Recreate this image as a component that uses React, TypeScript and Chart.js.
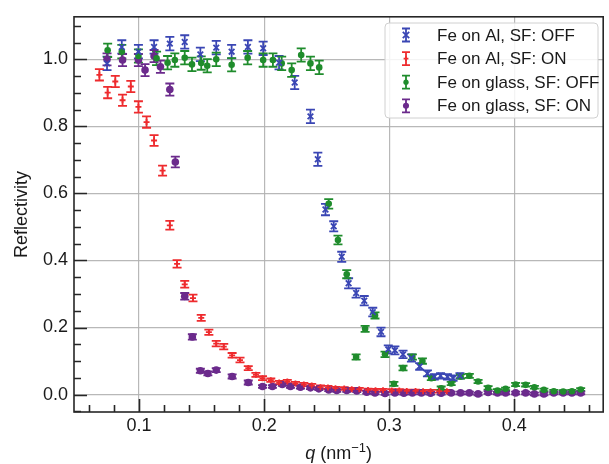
import React, { useEffect, useRef } from 'react';
import { Chart, registerables } from 'chart.js';
Chart.register(...registerables);

const FONT = '"Liberation Sans", Arial, Helvetica, sans-serif';

const seriesLabels = ['Fe on Al, SF: OFF', 'Fe on Al, SF: ON', 'Fe on glass, SF: OFF', 'Fe on glass, SF: ON'];
const seriesColors = ['#3a46b4', '#ee2b2e', '#1f8c2c', '#6b2a8c'];

const blueQ = [0.0744, 0.0862, 0.0995, 0.112, 0.1246, 0.1365, 0.149, 0.1617, 0.174, 0.187, 0.1992, 0.2119, 0.2244, 0.237, 0.2429, 0.249, 0.2556, 0.262, 0.2675, 0.2735, 0.280, 0.2868, 0.2934, 0.2992, 0.3045, 0.311, 0.3177, 0.3243, 0.3305, 0.336, 0.341, 0.3465, 0.351, 0.3565];
const blueR = [0.988, 1.037, 1.023, 1.037, 1.047, 1.052, 1.015, 1.035, 1.023, 1.037, 1.033, 0.99, 0.931, 0.830, 0.702, 0.552, 0.502, 0.411, 0.332, 0.303, 0.280, 0.246, 0.187, 0.135, 0.132, 0.120, 0.109, 0.084, 0.063, 0.053, 0.056, 0.053, 0.049, 0.056];
const blueErr = [0.02, 0.02, 0.02, 0.02, 0.02, 0.02, 0.02, 0.02, 0.02, 0.02, 0.02, 0.02, 0.02, 0.02, 0.02, 0.017, 0.015, 0.015, 0.015, 0.014, 0.014, 0.013, 0.013, 0.012, 0.012, 0.011, 0.011, 0.01, 0.009, 0.008, 0.008, 0.008, 0.008, 0.008];

const redQ = [0.0683, 0.0749, 0.081, 0.0868, 0.0934, 0.0995, 0.106, 0.112, 0.1188, 0.1246, 0.1304, 0.1365, 0.1431, 0.1497, 0.1558, 0.1617, 0.1677, 0.1744, 0.1807, 0.1873, 0.1934, 0.1987, 0.2053, 0.212, 0.2185, 0.225, 0.2317, 0.238, 0.245, 0.251, 0.257, 0.264, 0.270, 0.276, 0.283, 0.289, 0.295, 0.302, 0.308, 0.314, 0.321, 0.327, 0.333, 0.340, 0.346];
const redR = [0.954, 0.901, 0.934, 0.878, 0.919, 0.858, 0.813, 0.758, 0.668, 0.505, 0.390, 0.329, 0.288, 0.229, 0.186, 0.152, 0.143, 0.117, 0.103, 0.079, 0.059, 0.049, 0.043, 0.036, 0.039, 0.033, 0.030, 0.027, 0.022, 0.021, 0.019, 0.018, 0.016, 0.016, 0.014, 0.013, 0.013, 0.012, 0.012, 0.011, 0.011, 0.010, 0.010, 0.010, 0.010];
const redErr = [0.017, 0.017, 0.017, 0.017, 0.017, 0.017, 0.017, 0.016, 0.015, 0.013, 0.011, 0.010, 0.010, 0.009, 0.008, 0.008, 0.008, 0.007, 0.007, 0.006, 0.006, 0.006, 0.005, 0.005, 0.005, 0.005, 0.005, 0.005, 0.005, 0.005, 0.004, 0.004, 0.004, 0.004, 0.004, 0.004, 0.004, 0.004, 0.004, 0.004, 0.004, 0.004, 0.004, 0.004, 0.004];

const greenQ = [0.0749, 0.0862, 0.0995, 0.114, 0.1228, 0.1286, 0.1365, 0.1423, 0.1497, 0.1545, 0.1617, 0.174, 0.1868, 0.1992, 0.207, 0.214, 0.222, 0.2296, 0.237, 0.244, 0.2516, 0.259, 0.266, 0.2735, 0.2807, 0.2886, 0.2966, 0.3037, 0.311, 0.3185, 0.3265, 0.3336, 0.3415, 0.3495, 0.357, 0.364, 0.371, 0.379, 0.3865, 0.393, 0.401, 0.409, 0.416, 0.4236, 0.4315, 0.439, 0.446, 0.453];
const greenR = [1.027, 1.023, 1.01, 1.003, 0.99, 0.998, 1.005, 0.985, 0.989, 0.981, 1.0, 0.984, 1.005, 0.998, 0.998, 0.988, 0.968, 1.013, 0.988, 0.976, 0.569, 0.461, 0.359, 0.112, 0.196, 0.236, 0.120, 0.032, 0.079, 0.112, 0.100, 0.049, 0.019, 0.033, 0.054, 0.056, 0.039, 0.020, 0.012, 0.017, 0.030, 0.029, 0.022, 0.014, 0.010, 0.009, 0.010, 0.015];
const greenErr = [0.02, 0.02, 0.02, 0.02, 0.02, 0.02, 0.02, 0.02, 0.02, 0.02, 0.02, 0.02, 0.02, 0.02, 0.02, 0.02, 0.02, 0.02, 0.02, 0.02, 0.014, 0.013, 0.012, 0.008, 0.009, 0.009, 0.008, 0.006, 0.007, 0.008, 0.008, 0.006, 0.005, 0.005, 0.006, 0.006, 0.005, 0.005, 0.004, 0.004, 0.005, 0.005, 0.004, 0.004, 0.004, 0.004, 0.004, 0.004];

const purpleQ = [0.0744, 0.0868, 0.0995, 0.1048, 0.112, 0.1171, 0.1246, 0.129, 0.1365, 0.1426, 0.149, 0.155, 0.1617, 0.1744, 0.1873, 0.1987, 0.2066, 0.2145, 0.221, 0.229, 0.237, 0.2437, 0.2516, 0.258, 0.266, 0.274, 0.282, 0.2886, 0.2966, 0.3045, 0.3117, 0.3185, 0.3257, 0.333, 0.3415, 0.3495, 0.357, 0.364, 0.371, 0.379, 0.3865, 0.393, 0.401, 0.409, 0.416, 0.4236, 0.4315, 0.439, 0.446, 0.453];
const purpleR = [1.0, 0.998, 0.998, 0.968, 1.01, 0.978, 0.91, 0.694, 0.293, 0.172, 0.071, 0.063, 0.073, 0.054, 0.036, 0.024, 0.024, 0.030, 0.024, 0.022, 0.020, 0.017, 0.014, 0.012, 0.012, 0.011, 0.007, 0.005, 0.003, 0.005, 0.004, 0.005, 0.005, 0.004, 0.004, 0.005, 0.005, 0.005, 0.002, 0.006, 0.005, 0.005, 0.005, 0.005, 0.002, 0.002, 0.005, 0.005, 0.005, 0.005];
const purpleErr = [0.018, 0.018, 0.018, 0.018, 0.018, 0.018, 0.018, 0.016, 0.01, 0.008, 0.006, 0.006, 0.006, 0.006, 0.006, 0.004, 0.004, 0.004, 0.004, 0.004, 0.004, 0.004, 0.004, 0.004, 0.004, 0.004, 0.004, 0.004, 0.004, 0.004, 0.004, 0.004, 0.004, 0.004, 0.004, 0.004, 0.004, 0.004, 0.004, 0.004, 0.004, 0.004, 0.004, 0.004, 0.004, 0.004, 0.004, 0.004, 0.004, 0.004];

const xTicks = [0.1, 0.2, 0.3, 0.4];
const yTicks = [0.0, 0.2, 0.4, 0.6, 0.8, 1.0];
const xRange = [0.048, 0.471];
const yRange = [-0.052, 1.127];
const yTitle = 'Reflectivity';
const xTitleParts = ['q', ' (nm', '\u22121', ')'];

const allQ = [blueQ, redQ, greenQ, purpleQ];
const allR = [blueR, redR, greenR, purpleR];
const allErr = [blueErr, redErr, greenErr, purpleErr];
const markerStyles = ['crossRot', 'cross', 'circle', 'circle'];
const markerRadii = [4, 3, 3.3, 3.8];

function drawMarker(ctx: CanvasRenderingContext2D, style: string, x: number, y: number, r: number, color: string) {
  ctx.save();
  ctx.strokeStyle = color;
  ctx.fillStyle = color;
  ctx.lineWidth = 1.8;
  ctx.beginPath();
  if (style === 'crossRot') {
    ctx.moveTo(x - r, y - r); ctx.lineTo(x + r, y + r);
    ctx.moveTo(x - r, y + r); ctx.lineTo(x + r, y - r);
    ctx.stroke();
  } else if (style === 'cross') {
    ctx.moveTo(x - r, y); ctx.lineTo(x + r, y);
    ctx.moveTo(x, y - r); ctx.lineTo(x, y + r);
    ctx.stroke();
  } else {
    ctx.arc(x, y, r, 0, Math.PI * 2);
    ctx.fill();
  }
  ctx.restore();
}

const errorBarPlugin = {
  id: 'errorBars',
  beforeDatasetsDraw(chart: any) {
    const { ctx, chartArea } = chart;
    const xs = chart.scales.x;
    const ys = chart.scales.y;
    ctx.save();
    ctx.beginPath();
    ctx.rect(chartArea.left, chartArea.top, chartArea.right - chartArea.left, chartArea.bottom - chartArea.top);
    ctx.clip();
    allQ.forEach((qs, i) => {
      ctx.strokeStyle = seriesColors[i];
      ctx.lineWidth = 1.8;
      qs.forEach((q, j) => {
        const px = xs.getPixelForValue(q);
        const y1 = ys.getPixelForValue(allR[i][j] - allErr[i][j]);
        const y2 = ys.getPixelForValue(allR[i][j] + allErr[i][j]);
        ctx.beginPath();
        ctx.moveTo(px, y1); ctx.lineTo(px, y2);
        ctx.moveTo(px - 4.5, y1); ctx.lineTo(px + 4.5, y1);
        ctx.moveTo(px - 4.5, y2); ctx.lineTo(px + 4.5, y2);
        ctx.stroke();
      });
    });
    ctx.restore();
  },
};

const framePlugin = {
  id: 'frame',
  afterDraw(chart: any) {
    const { ctx, chartArea } = chart;
    const { left, right, top, bottom } = chartArea;
    const xs = chart.scales.x;
    const ys = chart.scales.y;
    ctx.save();
    ctx.strokeStyle = '#262626';
    ctx.lineWidth = 1.6;
    ctx.beginPath();
    for (let i = 0; i <= 30; i++) {
      const v = Math.round(i * 2) / 100;
      if (v < xRange[0] || v > xRange[1]) continue;
      const major = i % 5 === 0;
      const px = Math.round(xs.getPixelForValue(v)) + 0.5;
      ctx.moveTo(px, bottom);
      ctx.lineTo(px, bottom - (major ? 13 : 7));
    }
    for (let i = -2; i <= 24; i++) {
      const v = i * 0.05;
      if (v < yRange[0] || v > yRange[1]) continue;
      const major = i % 4 === 0;
      const py = Math.round(ys.getPixelForValue(v)) + 0.5;
      ctx.moveTo(left, py);
      ctx.lineTo(left + (major ? 13 : 7), py);
    }
    ctx.stroke();
    ctx.lineWidth = 1.6;
    ctx.strokeStyle = '#262626';
    ctx.strokeRect(left, top, right - left, bottom - top);

    const cx = (left + right) / 2;
    const baseY = 459;
    const fNorm = `18px ${FONT}`;
    const fIt = `italic 18px ${FONT}`;
    const fSup = `13px ${FONT}`;
    ctx.fillStyle = '#1a1a1a';
    ctx.textBaseline = 'alphabetic';
    ctx.textAlign = 'left';
    const fonts = [fIt, fNorm, fSup, fNorm];
    const widths = xTitleParts.map((t, i) => { ctx.font = fonts[i]; return ctx.measureText(t).width; });
    let x = cx - widths.reduce((a, b) => a + b, 0) / 2;
    xTitleParts.forEach((t, i) => {
      ctx.font = fonts[i];
      ctx.fillText(t, x, i === 2 ? baseY - 7 : baseY);
      x += widths[i];
    });

    const lx = 385, ly = 23, lw = 213, lh = 95;
    ctx.fillStyle = 'rgba(255,255,255,0.85)';
    ctx.strokeStyle = '#d0d0d0';
    ctx.lineWidth = 1;
    ctx.beginPath();
    const rr = 4;
    ctx.moveTo(lx + rr, ly);
    ctx.arcTo(lx + lw, ly, lx + lw, ly + lh, rr);
    ctx.arcTo(lx + lw, ly + lh, lx, ly + lh, rr);
    ctx.arcTo(lx, ly + lh, lx, ly, rr);
    ctx.arcTo(lx, ly, lx + lw, ly, rr);
    ctx.closePath();
    ctx.fill();
    ctx.stroke();
    seriesLabels.forEach((lab, i) => {
      const yy = ly + 12 + i * 23.6;
      const gx = 406;
      ctx.strokeStyle = seriesColors[i];
      ctx.lineWidth = 1.8;
      ctx.beginPath();
      ctx.moveTo(gx, yy - 6.5); ctx.lineTo(gx, yy + 6.5);
      ctx.moveTo(gx - 4, yy - 6.5); ctx.lineTo(gx + 4, yy - 6.5);
      ctx.moveTo(gx - 4, yy + 6.5); ctx.lineTo(gx + 4, yy + 6.5);
      ctx.stroke();
      drawMarker(ctx, markerStyles[i], gx, yy, markerRadii[i] * 0.8, seriesColors[i]);
      ctx.fillStyle = '#1a1a1a';
      ctx.font = `17px ${FONT}`;
      ctx.textBaseline = 'middle';
      ctx.fillText(lab, 437, yy + 1);
    });
    ctx.restore();
  },
};

export default function App() {
  const ref = useRef<HTMLCanvasElement>(null);
  useEffect(() => {
    if (!ref.current) return;
    const datasets = allQ.map((qs, i) => ({
      label: seriesLabels[i],
      data: qs.map((q, j) => ({ x: q, y: allR[i][j] })),
      pointStyle: markerStyles[i] as any,
      pointRadius: markerRadii[i],
      pointBorderWidth: markerStyles[i] === 'circle' ? 0 : 1.8,
      backgroundColor: seriesColors[i],
      borderColor: seriesColors[i],
      showLine: false,
    }));
    const chart = new Chart(ref.current, {
      type: 'scatter',
      data: { datasets },
      options: {
        animation: false,
        responsive: false,
        devicePixelRatio: 1,
        layout: { padding: { left: 0, right: 2, top: 13, bottom: 0 } },
        plugins: { legend: { display: false }, tooltip: { enabled: false } },
        scales: {
          x: {
            type: 'linear',
            min: xRange[0],
            max: xRange[1],
            afterBuildTicks: (s: any) => { s.ticks = xTicks.map((v) => ({ value: v })); },
            afterFit: (s: any) => { s.height = 52; },
            ticks: {
              callback: (v: any) => Number(v).toFixed(1),
              font: { family: FONT, size: 18 },
              color: '#1a1a1a',
              padding: 3,
              maxRotation: 0,
              autoSkip: false,
            },
            grid: { color: 'rgba(176,176,176,0.9)', lineWidth: 1.2, drawTicks: false },
            border: { display: false },
          },
          y: {
            type: 'linear',
            min: yRange[0],
            max: yRange[1],
            afterBuildTicks: (s: any) => { s.ticks = yTicks.map((v) => ({ value: v })); },
            afterFit: (s: any) => { s.width = 74; },
            ticks: {
              callback: (v: any) => Number(v).toFixed(1),
              font: { family: FONT, size: 18 },
              color: '#1a1a1a',
              padding: 6,
              autoSkip: false,
            },
            grid: { color: 'rgba(176,176,176,0.9)', lineWidth: 1.2, drawTicks: false },
            border: { display: false },
            title: {
              display: true,
              text: yTitle,
              font: { family: FONT, size: 18 },
              color: '#1a1a1a',
              padding: { top: 11, bottom: 0 },
            },
          },
        },
      },
      plugins: [errorBarPlugin, framePlugin],
    });
    return () => chart.destroy();
  }, []);
  return (
    <div style={{ position: 'absolute', left: 0, top: 0, width: 609, height: 464, background: '#fff' }}>
      <canvas ref={ref} width={609} height={464} style={{ width: 609, height: 464, display: 'block' }} />
    </div>
  );
}
